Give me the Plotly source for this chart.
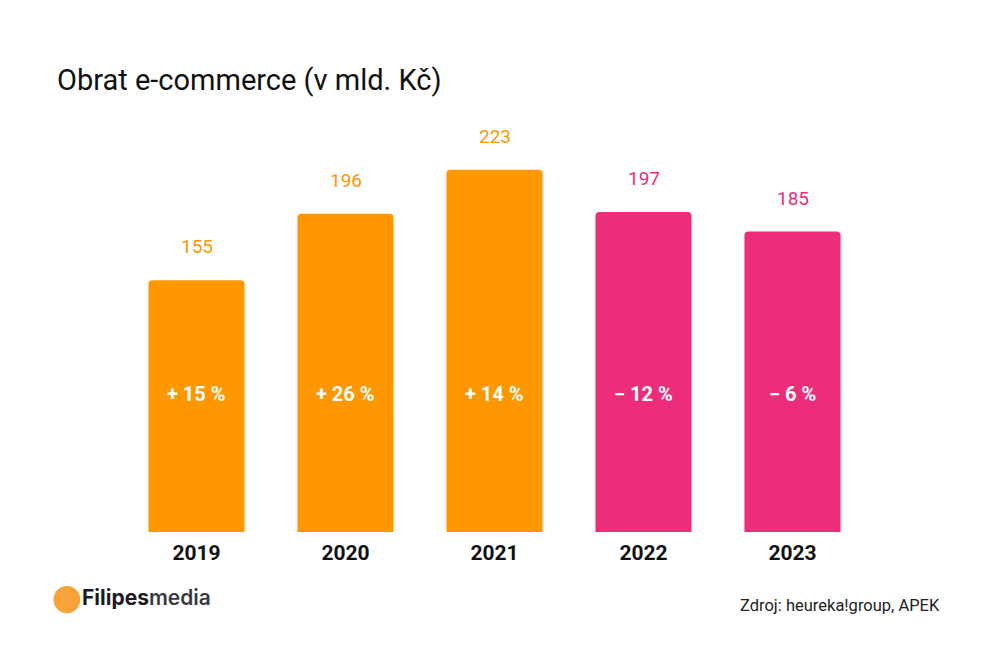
import plotly.graph_objects as go

years = ["2019", "2020", "2021", "2022", "2023"]
values = [155, 196, 223, 197, 185]
changes = ["+ 15 %", "+ 26 %", "+ 14 %", "− 12 %", "− 6 %"]
colors = ["#FF9700", "#FF9700", "#FF9700", "#EC2D7A", "#EC2D7A"]

fig = go.Figure()
fig.add_trace(go.Bar(
    x=years, y=values, marker=dict(color=colors, line=dict(width=0)),
    hoverinfo="skip", showlegend=False,
))

for i, (v, c, ch) in enumerate(zip(values, colors, changes)):
    fig.add_annotation(x=i, y=v, text=str(v), showarrow=False, yanchor="bottom",
                       yshift=20, font=dict(family="Roboto", size=19, color=c))
    fig.add_annotation(x=i, y=85, text="<b>" + ch + "</b>", showarrow=False,
                       font=dict(family="Roboto", size=20, color="white"))

fig.add_annotation(xref="paper", yref="paper", x=-0.09, y=1.0, yshift=46,
                   text="Obrat e-commerce (v mld. Kč)", showarrow=False,
                   xanchor="left", yanchor="middle",
                   font=dict(family="Roboto", size=29, color="#111111"))
fig.add_annotation(xref="paper", yref="paper", x=1.1, y=0, yshift=-73,
                   text="Zdroj: heureka!group, APEK", showarrow=False,
                   xanchor="right", yanchor="middle",
                   font=dict(family="Roboto", size=16.5, color="#222222"))
fig.add_annotation(xref="paper", yref="paper", x=-0.057, y=0, yshift=-65,
                   text="<b>Filipes</b><span style='font-weight:600;color:#3a3a44'>media</span>",
                   showarrow=False, xanchor="left", yanchor="middle",
                   font=dict(family="Inter", size=21, color="#1a1a22"))
fig.add_shape(type="circle", xref="paper", yref="paper",
              x0=-0.092, x1=-0.056, y0=-0.2, y1=-0.133,
              fillcolor="#F7A33A", line=dict(width=0))

fig.update_layout(
    width=1000, height=667,
    margin=dict(l=114, r=141, t=118, b=143),
    paper_bgcolor="white", plot_bgcolor="white",
    bargap=0.355, barcornerradius=4,
    xaxis=dict(type="category", range=[-0.5, 4.5], showgrid=False, zeroline=False,
               showline=False, ticks="", ticklabelstandoff=6,
               tickfont=dict(family="Roboto", size=21, color="#111111"),
               tickvals=years, ticktext=["<b>" + y + "</b>" for y in years]),
    yaxis=dict(range=[0, 250], visible=False),
)

fig.write_html("out.html")
